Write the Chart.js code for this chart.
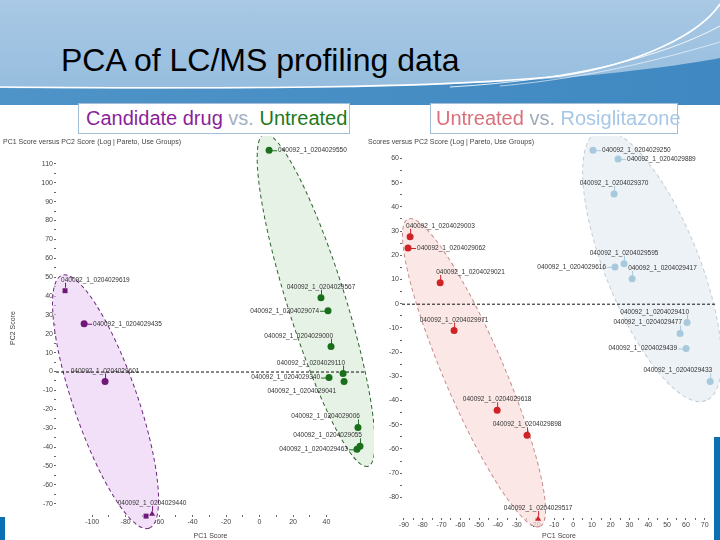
<!DOCTYPE html>
<html>
<head>
<meta charset="utf-8">
<script src="https://cdn.jsdelivr.net/npm/chart.js@4.4.1/dist/chart.umd.min.js"></script>
<style>
    body { margin: 0; width: 720px; height: 540px; overflow: hidden; background: #fff; position: relative; font-family: Arial, "Liberation Sans", sans-serif; }
    #header { position: absolute; left: 0; top: 0; }
    #title { position: absolute; left: 61px; top: 44px; font-size: 32px; line-height: 32px; color: #000; white-space: nowrap; }
    .box { position: absolute; top: 103px; height: 31px; border: 1px solid #a4c0d8; background: #fff; box-sizing: border-box; font-size: 20px; line-height: 29px; white-space: nowrap; overflow: visible; }
    .caption { position: absolute; font-size: 7px; color: #444; white-space: nowrap; }
    canvas { position: absolute; }
    .accent { position: absolute; background: #0a6fb3; }
</style>
</head>
<body>
<svg id="header" width="720" height="105">
    <defs>
        <linearGradient id="sky" x1="0" y1="0" x2="0" y2="1">
            <stop offset="0" stop-color="#a9c9e5"/>
            <stop offset="1" stop-color="#93bbdd"/>
        </linearGradient>
        <linearGradient id="band" x1="0" y1="0" x2="1" y2="0">
            <stop offset="0" stop-color="#4f94c8"/>
            <stop offset="1" stop-color="#3f88c1"/>
        </linearGradient>
    </defs>
    <rect width="720" height="105" fill="url(#sky)"/>
    <path d="M0,88 C250,90 430,88 560,78 C630,72 690,64 720,58 L720,105 L0,105 Z" fill="url(#band)"/>
    <path d="M0,87 C250,89 440,88 560,76 C640,64 700,34 720,4" stroke="#fff" stroke-width="1.6" fill="none"/>
    <path d="M450,87 C570,80 660,58 720,26" stroke="#fff" stroke-width="1" fill="none" opacity="0.85"/>
    <path d="M500,86 C600,77 675,55 720,42" stroke="#fff" stroke-width="0.8" fill="none" opacity="0.75"/>
</svg>
<div id="title">PCA of LC/MS profiling data</div>

<canvas id="leftChart" width="374" height="404" style="left:0;top:136px"></canvas>
<canvas id="rightChart" width="354" height="404" style="left:366px;top:136px"></canvas>

<div class="box" style="left:78px;width:272px;padding-left:7px">
    <span style="color:#8a1f9c">Candidate drug</span> <span style="color:#a3b1c0">vs.</span> <span style="color:#1d7a1d">Untreated</span>
</div>
<div class="box" style="left:430px;width:248px;padding-left:5px">
    <span style="color:#d9707a">Untreated</span> <span style="color:#9eabb9">vs.</span> <span style="color:#a6c7e6">Rosiglitazone</span>
</div>
<div class="caption" style="left:3px;top:138px">PC1 Score versus PC2 Score (Log | Pareto, Use Groups)</div>
<div class="caption" style="left:368px;top:138px">Scores versus PC2 Score (Log | Pareto, Use Groups)</div>

<div class="accent" style="left:0;top:517px;width:5px;height:23px"></div>
<div class="accent" style="left:714px;top:437px;width:6px;height:103px"></div>

<script>
    // Left plot: candidate drug vs untreated
    const leftDrugX = [-116.2, -104.8, -92.3, -67.8, -64.2];
    const leftDrugY = [42.8, 25.3, -5.3, -76.6, -75.5];
    const leftDrugNames = ['040092_1_0204029619', '040092_1_0204029435', '040092_1_0204029601', '', '040092_1_0204029440'];

    const leftUntreatedX = [5.7, 36.7, 40.9, 42.7, 49.9, 41.5, 50.5, 58.8, 58.2, 60.0];
    const leftUntreatedY = [117.2, 39.1, 32.2, 13.2, -1.1, -3.2, -5.3, -29.6, -41.2, -39.6];
    const leftUntreatedNames = ['040092_1_0204029550', '040092_1_0204029567', '040092_1_0204029074', '040092_1_0204029000',
        '040092_1_0204029110', '040092_1_0204029340', '040092_1_0204029041', '040092_1_0204029006',
        '040092_1_0204029463', '040092_1_0204029055'];

    const leftXTicks = [-100, -80, -60, -40, -20, 0, 20, 40];
    const leftYTicks = [110, 100, 90, 80, 70, 60, 50, 40, 30, 20, 10, 0, -10, -20, -30, -40, -50, -60, -70];

    // group ellipses: ends of the long axis, data units
    const leftDrugEllipse = [-118, 51, -66, -83];
    const leftUntreatedEllipse = [2.7, 125.7, 64.8, -50.2];

    // Right plot: untreated vs rosiglitazone
    const rightUntreatedX = [-86.7, -87.8, -70.7, -63.3, -40.4, -24.5, -18.6];
    const rightUntreatedY = [27.6, 23.0, 8.6, -11.1, -44.0, -54.3, -88.9];
    const rightUntreatedNames = ['040092_1_0204029003', '040092_1_0204029062', '040092_1_0204029021', '040092_1_0204029971',
        '040092_1_0204029618', '040092_1_0204029898', '040092_1_0204029517'];

    const rightRosiX = [10.6, 23.9, 21.8, 22.3, 27.1, 31.4, 60.6, 56.9, 60.1, 72.9];
    const rightRosiY = [63.4, 59.7, 45.3, 15.2, 16.5, 10.3, -7.8, -12.3, -18.5, -32.1];
    const rightRosiNames = ['040092_1_0204029250', '040092_1_0204029889', '040092_1_0204029370', '040092_1_0204029616',
        '040092_1_0204029595', '040092_1_0204029417', '040092_1_0204029410', '040092_1_0204029477',
        '040092_1_0204029439', '040092_1_0204029433'];

    const rightXTicks = [-90, -80, -70, -60, -50, -40, -30, -20, -10, 0, 10, 20, 30, 40, 50, 60, 70];
    const rightYTicks = [60, 50, 40, 30, 20, 10, 0, -10, -20, -30, -40, -50, -60, -70, -80];

    const rightUntreatedEllipse = [-87.8, 35, -17.6, -92];
    const rightRosiEllipse = [13.3, 71.2, 70.7, -40];

    // ellipses, zero line and point labels
    const pcaExtras = {
        id: 'pcaExtras',
        beforeDatasetsDraw(chart, args, opts) {
            const ctx = chart.ctx, xs = chart.scales.x, ys = chart.scales.y;
            opts.ellipses.forEach(e => {
                const x1 = xs.getPixelForValue(e.ends[0]), y1 = ys.getPixelForValue(e.ends[1]);
                const x2 = xs.getPixelForValue(e.ends[2]), y2 = ys.getPixelForValue(e.ends[3]);
                const len = Math.hypot(x2 - x1, y2 - y1) / 2;
                ctx.save();
                ctx.translate((x1 + x2) / 2, (y1 + y2) / 2);
                ctx.rotate(Math.atan2(y2 - y1, x2 - x1));
                ctx.beginPath();
                ctx.ellipse(0, 0, len, e.half, 0, 0, Math.PI * 2);
                ctx.fillStyle = e.fill;
                ctx.fill();
                ctx.setLineDash([4, 3]);
                ctx.lineWidth = 1;
                ctx.strokeStyle = e.stroke;
                ctx.stroke();
                ctx.restore();
            });
            const y0 = ys.getPixelForValue(0);
            ctx.save();
            ctx.setLineDash([3, 2]);
            ctx.strokeStyle = '#111';
            ctx.lineWidth = 1;
            ctx.beginPath();
            ctx.moveTo(chart.chartArea.left, y0 + 0.5);
            ctx.lineTo(chart.chartArea.right, y0 + 0.5);
            ctx.stroke();
            ctx.restore();
        },
        afterDatasetsDraw(chart) {
            const ctx = chart.ctx;
            ctx.save();
            ctx.font = '6.5px Arial';
            chart.data.datasets.forEach((ds, di) => {
                const meta = chart.getDatasetMeta(di);
                meta.data.forEach((pt, i) => {
                    const name = ds.names[i];
                    if (!name) return;
                    const px = pt.x, py = pt.y, place = ds.place[i];
                    ctx.strokeStyle = ds.backgroundColor;
                    ctx.fillStyle = '#333';
                    ctx.lineWidth = 1;
                    ctx.beginPath();
                    if (place[0] === 'a') {
                        ctx.moveTo(px + 0.5, py - 3); ctx.lineTo(px + 0.5, py - 8);
                        ctx.stroke();
                        ctx.textBaseline = 'alphabetic';
                        ctx.textAlign = place === 'a' ? 'center' : (place === 'ar' ? 'left' : 'right');
                        const tx = place === 'a' ? px : (place === 'ar' ? px - 4 : px + 2);
                        ctx.fillText(name, tx, py - 9);
                    } else if (place === 'r') {
                        ctx.moveTo(px + 3, py + 0.5); ctx.lineTo(px + 8, py + 0.5);
                        ctx.stroke();
                        ctx.textAlign = 'left'; ctx.textBaseline = 'middle';
                        ctx.fillText(name, px + 9, py);
                    } else if (place === 'l') {
                        ctx.moveTo(px - 3, py + 0.5); ctx.lineTo(px - 8, py + 0.5);
                        ctx.stroke();
                        ctx.textAlign = 'right'; ctx.textBaseline = 'middle';
                        ctx.fillText(name, px - 9, py);
                    } else if (place === 'bl') {
                        ctx.textAlign = 'right'; ctx.textBaseline = 'top';
                        ctx.fillText(name, px - 8, py + 6);
                    }
                });
            });
            ctx.restore();
        }
    };

    function tickList(list) {
        // major ticks from the list plus a minor mark between each pair
        const out = [];
        list.forEach((v, i) => {
            out.push({ value: v });
            if (i < list.length - 1) out.push({ value: (v + list[i + 1]) / 2 });
        });
        return out;
    }

    function axis(min, max, list, title, fitSize, vertical) {
        return {
            type: 'linear', min: min, max: max,
            afterBuildTicks: s => { s.ticks = tickList(list); },
            afterFit: s => { if (vertical) s.width = fitSize; else s.height = fitSize; },
            border: { display: false },
            grid: { drawOnChartArea: false, tickLength: 2, color: '#666' },
            ticks: {
                autoSkip: false, maxRotation: 0, padding: 1, color: '#444',
                font: { size: 7, family: 'Arial' },
                callback: v => list.includes(v) ? String(v) : ''
            },
            title: {
                display: !!title, text: title, color: '#444',
                padding: vertical ? { top: 9, bottom: 0 } : 0,
                font: { size: 7, family: 'Arial' }
            }
        };
    }

    function pcaChart(id, cfg) {
        return new Chart(document.getElementById(id), {
            type: 'scatter',
            data: {
                datasets: cfg.groups.map(g => ({
                    data: g.x.map((v, i) => ({ x: v, y: g.y[i] })),
                    names: g.names,
                    place: g.place,
                    backgroundColor: g.color,
                    borderColor: g.color,
                    borderWidth: 0,
                    pointRadius: 3.5,
                    pointStyle: g.styles || 'circle',
                    clip: false
                }))
            },
            options: {
                responsive: false,
                animation: false,
                events: [],
                layout: { padding: { top: 4, right: cfg.padRight, left: 0, bottom: 0 } },
                plugins: {
                    legend: { display: false },
                    tooltip: { enabled: false },
                    pcaExtras: { ellipses: cfg.ellipses }
                },
                scales: {
                    x: axis(cfg.x[0], cfg.x[1], cfg.xTicks, 'PC1 Score', cfg.xHeight, false),
                    y: axis(cfg.y[0], cfg.y[1], cfg.yTicks, cfg.yTitle, cfg.yWidth, true)
                }
            },
            plugins: [pcaExtras]
        });
    }

    pcaChart('leftChart', {
        x: [-121.6, 63], y: [-76, 122],
        xTicks: leftXTicks, yTicks: leftYTicks,
        yTitle: 'PC2 Score', yWidth: 56, xHeight: 25, padRight: 9,
        groups: [
            { x: leftDrugX, y: leftDrugY, names: leftDrugNames, color: '#70177a',
              place: ['ar', 'r', 'a', '', 'a'], styles: ['rect', 'circle', 'circle', 'rect', 'triangle'] },
            { x: leftUntreatedX, y: leftUntreatedY, names: leftUntreatedNames, color: '#1a701a',
              place: ['r', 'a', 'l', 'al', 'al', 'l', 'bl', 'al', 'l', 'al'] }
        ],
        ellipses: [
            { ends: leftDrugEllipse, half: 32, fill: 'rgba(232,204,242,0.6)', stroke: '#6b2a7c' },
            { ends: leftUntreatedEllipse, half: 29, fill: 'rgba(214,234,214,0.6)', stroke: '#2c652c' }
        ]
    });

    pcaChart('rightChart', {
        x: [-91, 76], y: [-88.5, 67.1],
        xTicks: rightXTicks, yTicks: rightYTicks,
        yTitle: '', yWidth: 36, xHeight: 22, padRight: 4,
        groups: [
            { x: rightUntreatedX, y: rightUntreatedY, names: rightUntreatedNames, color: '#cf2325',
              place: ['ar', 'r', 'ar', 'a', 'a', 'a', 'a'],
              styles: ['circle', 'circle', 'circle', 'circle', 'circle', 'circle', 'triangle'] },
            { x: rightRosiX, y: rightRosiY, names: rightRosiNames, color: '#a6c9dc',
              place: ['r', 'r', 'a', 'l', 'a', 'ar', 'al', 'al', 'l', 'al'] }
        ],
        ellipses: [
            { ends: rightUntreatedEllipse, half: 30, fill: 'rgba(250,222,220,0.7)', stroke: '#c58e8e' },
            { ends: rightRosiEllipse, half: 47, fill: 'rgba(230,236,243,0.7)', stroke: '#c3ccd6' }
        ]
    });
</script>
</body>
</html>
